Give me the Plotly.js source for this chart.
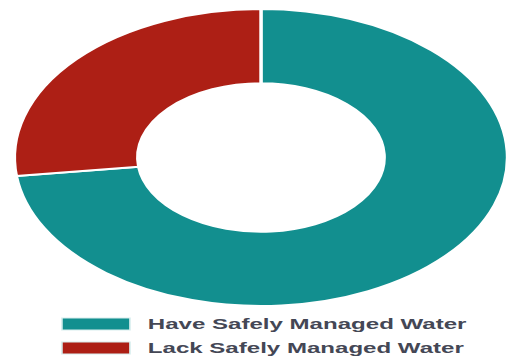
<!DOCTYPE html>
<html>
<head>
<meta charset="utf-8">
<script src="https://cdn.plot.ly/plotly-3.0.1.min.js"></script>
<style>
html,body{margin:0;padding:0;background:#fff;overflow:hidden;}
#wrap{width:507px;height:358px;overflow:hidden;}
#chart{width:306px;height:358px;transform:scaleX(1.66);transform-origin:0 0;}
</style>
</head>
<body>
<div id="wrap"><div id="chart"></div></div>
<script>
var labels = ["Have Safely Managed Water", "Lack Safely Managed Water"];
var values = [73, 27];
var colors = ["#128f8f", "#ad1f15"];

var W = 306, H = 358;
var shapes = [];
var annotations = [];
var rowY = [324, 348];
for (var i = 0; i < labels.length; i++) {
  var yc = 1 - rowY[i] / H;
  shapes.push({type: "rect", xref: "paper", yref: "paper",
    x0: 37.3 / W, x1: 78.3 / W, y0: yc - 6 / H, y1: yc + 6 / H,
    fillcolor: colors[i], line: {color: "#d8eeee", width: 1}});
  annotations.push({xref: "paper", yref: "paper", x: 87 / W, y: yc,
    xanchor: "left", yanchor: "middle", showarrow: false, text: "<b>" + labels[i] + "</b>",
    font: {family: "Liberation Sans, Arial, sans-serif", size: 14.5, color: "#444755"}});
}

var data = [{
  type: "pie", labels: labels, values: values, hole: 0.5,
  sort: false, direction: "clockwise", rotation: 0,
  marker: {colors: colors, line: {color: "#ffffff", width: 2}},
  textinfo: "none", hoverinfo: "none",
  domain: {x: [(157.2 - 148.5) / W, (157.2 + 148.5) / W], y: [1 - 306 / H, 1 - 9 / H]}
}];
var layout = {
  width: W, height: H, margin: {l: 0, r: 0, t: 0, b: 0},
  showlegend: false, paper_bgcolor: "#fff", plot_bgcolor: "#fff",
  shapes: shapes, annotations: annotations
};
Plotly.newPlot("chart", data, layout, {displayModeBar: false, staticPlot: true});
</script>
</body>
</html>
